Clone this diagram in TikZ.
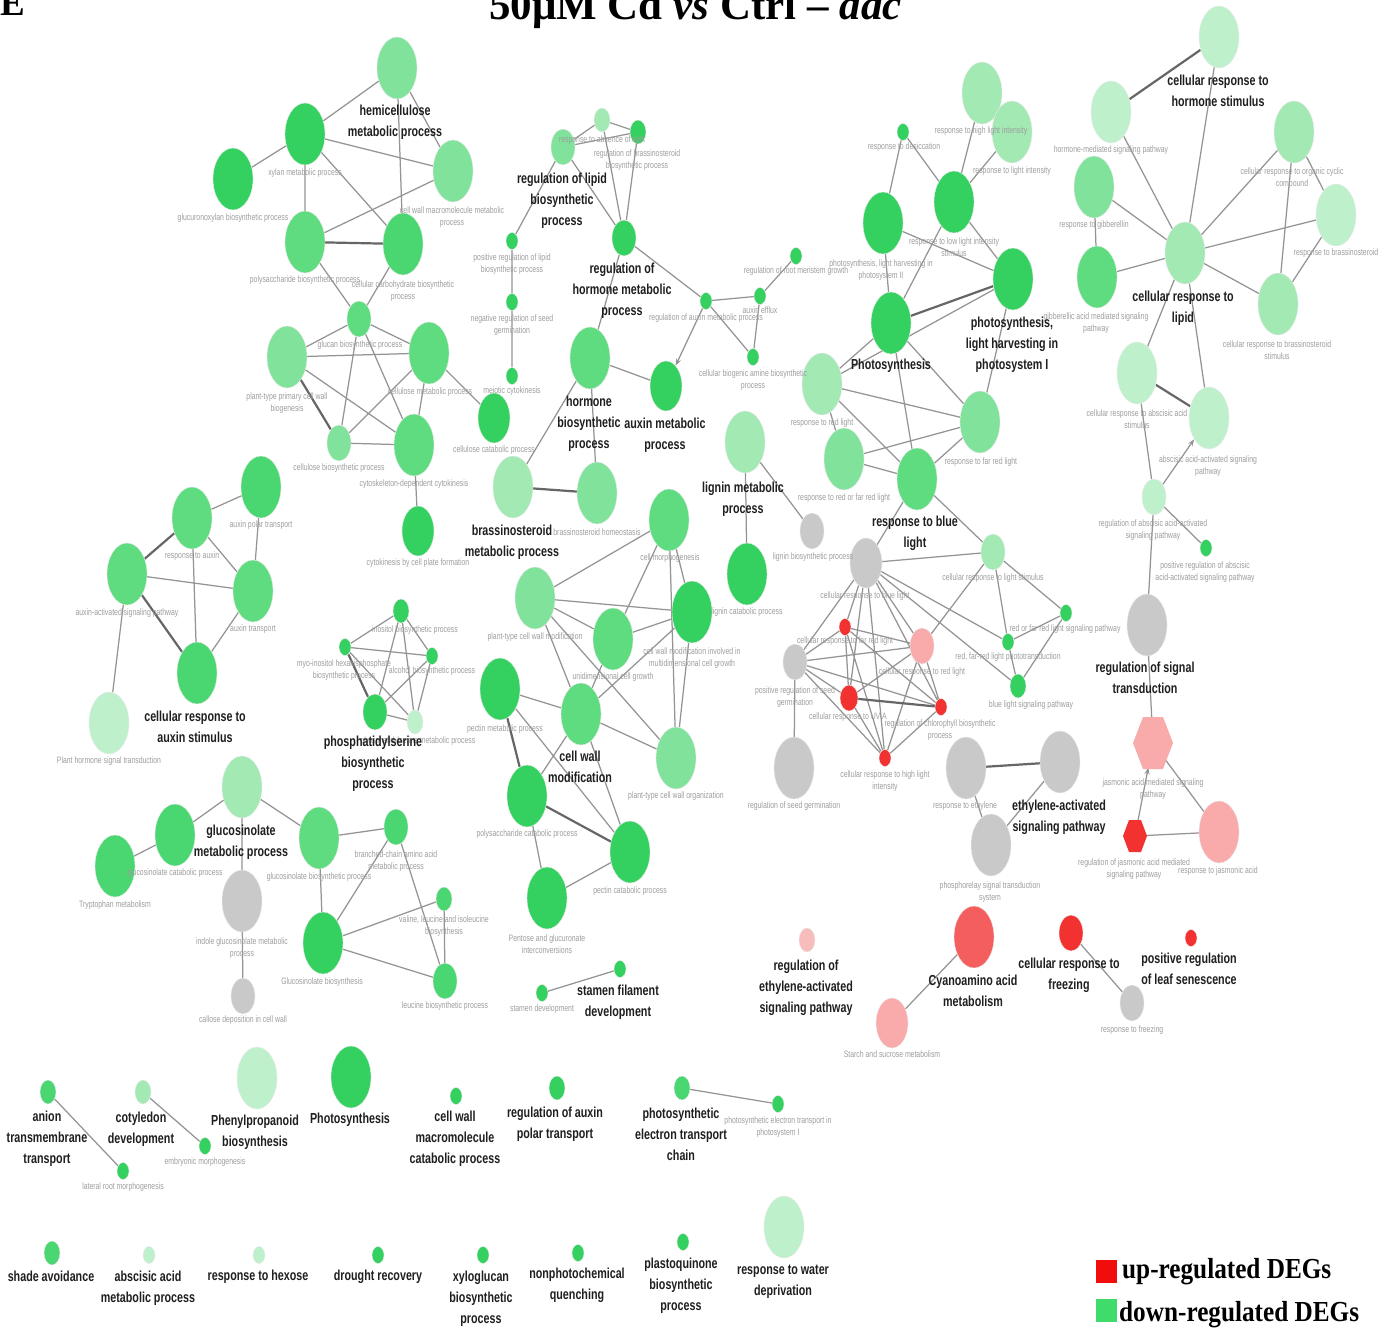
\documentclass[tikz,border=0pt]{standalone}
\usepackage{fontspec}
\setmainfont{Liberation Sans}
\newfontfamily\lblfont[FakeStretch=0.74]{Liberation Sans}
\newfontfamily\serifhead{Liberation Serif}
\newfontfamily\legfont[FakeStretch=0.87]{Liberation Serif}
\usetikzlibrary{shapes.geometric,arrows.meta,backgrounds}

\definecolor{cD}{HTML}{34D160}
\definecolor{cG}{HTML}{4AD772}
\definecolor{cM}{HTML}{5FDC80}
\definecolor{cL}{HTML}{80E29B}
\definecolor{cP}{HTML}{A2E9B4}
\definecolor{cV}{HTML}{BEF0CB}
\definecolor{cGr}{HTML}{C9C9C9}
\definecolor{cR}{HTML}{F23131}
\definecolor{cR2}{HTML}{F45E5E}
\definecolor{cK}{HTML}{F9AAAA}
\definecolor{cK2}{HTML}{F8BCBC}
\definecolor{legred}{HTML}{F20D0D}
\definecolor{leggreen}{HTML}{3FDB6B}

\begin{document}
\begin{tikzpicture}[x=1pt,y=-1pt,
  nd/.style={ellipse,inner sep=0pt,draw=black!8,line width=0.4pt},
  sL/.style={minimum width=40pt,minimum height=62pt},
  sM/.style={minimum width=32pt,minimum height=50pt},
  sS/.style={minimum width=24pt,minimum height=36pt},
  sX/.style={minimum width=16pt,minimum height=24pt},
  sT/.style={minimum width=12pt,minimum height=17pt},
  sm/.style={font=\lblfont\fontsize{9.3}{12.5}\selectfont,text=black!38,align=center,
    inner sep=0pt,anchor=north,yshift=6.3pt,execute at begin node=\strut},
  smm/.style={sm,yshift=-3.5pt},
  bd/.style={font=\lblfont\bfseries\fontsize{14.5}{21}\selectfont,text=black!88,align=center,
    inner sep=0pt,anchor=north,yshift=10.9pt,execute at begin node=\strut},
  bdm/.style={bd,yshift=-6pt},
  ed/.style={draw=black!42,line width=1.25pt},
  edk/.style={draw=black!60,line width=2.2pt},
  arr/.style={ed,-{Stealth[length=7pt,width=5pt]}}
]
\useasboundingbox (0,0) rectangle (1394,1331);
\clip (0,0) rectangle (1394,1331);

% ---------- panel letter and title ----------
\node[anchor=base west,inner sep=0pt,font=\serifhead\bfseries\fontsize{37}{37}\selectfont] (panel) at (0,15) {E};
\node[anchor=base west,inner sep=0pt,font=\serifhead\bfseries\fontsize{43}{43}\selectfont] (title) at (489,19) {50μM Cd \textit{vs} Ctrl – \textit{dac}};

% ---------- hemicellulose / cellulose ----------
\node[nd,sL,fill=cL] (n1) at (397,68) {};
\node[nd,sL,fill=cD] (n2) at (305,134) {};
\node[nd,sL,fill=cD] (n3) at (233,179) {};
\node[nd,sL,fill=cM] (n4) at (305,242) {};
\node[nd,sL,fill=cL] (n5) at (453,171) {};
\node[nd,sL,fill=cG] (n6) at (403,244) {};
\node[nd,sS,fill=cM] (n7) at (359,319) {};
\node[nd,sL,fill=cL] (n8) at (287,357) {};
\node[nd,sL,fill=cM] (n9) at (429,353) {};
\node[nd,sS,fill=cL] (n10) at (339,443) {};
\node[nd,sL,fill=cM] (n11) at (414,445) {};
\node[nd,sM,fill=cD] (n12) at (418,531) {};
\node[nd,sM,fill=cD] (n13) at (494,418) {};

% ---------- lipid / hormone metabolism ----------
\node[nd,sS,fill=cL] (n14) at (563,147) {};
\node[nd,sX,fill=cP] (n15) at (602,120) {};
\node[nd,sX,fill=cD] (n16) at (638,132) {};
\node[nd,sS,fill=cD] (n17) at (624,238) {};
\node[nd,sT,fill=cD] (n18) at (512,241) {};
\node[nd,sT,fill=cD] (n19) at (512,302) {};
\node[nd,sT,fill=cD] (n20) at (512,376) {};
\node[nd,sL,fill=cM] (n21) at (590,358) {};
\node[nd,sM,fill=cD] (n22) at (666,386) {};
\node[nd,sT,fill=cD] (n23) at (706,301) {};
\node[nd,sT,fill=cD] (n24) at (760,296) {};
\node[nd,sT,fill=cD] (n25) at (796,256) {};
\node[nd,sT,fill=cD] (n26) at (753,357) {};
\node[nd,sL,fill=cP] (n27) at (513,487) {};
\node[nd,sL,fill=cL] (n28) at (597,493) {};

% ---------- photosynthesis / light ----------
\node[nd,sL,fill=cP] (p1) at (982,93) {};
\node[nd,sL,fill=cP] (p2) at (1012,132) {};
\node[nd,sT,fill=cD] (p3) at (903,132) {};
\node[nd,sL,fill=cD] (p4) at (954,202) {};
\node[nd,sL,fill=cD] (p5) at (883,223) {};
\node[nd,sL,fill=cD] (p6) at (1013,279) {};
\node[nd,sL,fill=cD] (p7) at (891,323) {};
\node[nd,sL,fill=cP] (p8) at (822,384) {};
\node[nd,sL,fill=cL] (p9) at (980,422) {};
\node[nd,sL,fill=cL] (p10) at (844,459) {};
\node[nd,sL,fill=cM] (p11) at (917,479) {};
\node[nd,sL,fill=cP] (lm) at (745,442) {};
\node[nd,sL,fill=cD] (lc) at (747,574) {};
\node[nd,sS,fill=cGr] (g2) at (812,531) {};
\node[nd,sM,fill=cGr] (g1) at (866,563) {};
\node[nd,sS,fill=cP] (g3) at (993,552) {};
\node[nd,sS,fill=cGr] (g4) at (795,662) {};
\node[nd,sT,fill=cR] (r1) at (845,627) {};
\node[nd,sS,fill=cK] (r2) at (922,646) {};
\node[nd,fill=cR,minimum width=18pt,minimum height=26pt] (r3) at (849,698) {};
\node[nd,sT,fill=cR] (r4) at (941,707) {};
\node[nd,sT,fill=cR] (r5) at (885,758) {};
\node[nd,sT,fill=cD] (gr1) at (1066,613) {};
\node[nd,sT,fill=cD] (gr2) at (1008,642) {};
\node[nd,sX,fill=cD] (gr3) at (1018,686) {};
\node[nd,sL,fill=cGr] (g5) at (794,768) {};
\node[nd,sL,fill=cGr] (g6) at (966,768) {};
\node[nd,sL,fill=cGr] (g7) at (1060,762) {};
\node[nd,sL,fill=cGr] (g8) at (991,845) {};

% ---------- hormone response ----------
\node[nd,sL,fill=cV] (h1) at (1219,37) {};
\node[nd,sL,fill=cV] (h2) at (1111,112) {};
\node[nd,sL,fill=cL] (h3) at (1094,187) {};
\node[nd,sL,fill=cM] (h4) at (1097,277) {};
\node[nd,sL,fill=cP] (h5) at (1185,253) {};
\node[nd,sL,fill=cP] (h6) at (1294,132) {};
\node[nd,sL,fill=cV] (h7) at (1336,215) {};
\node[nd,sL,fill=cP] (h8) at (1278,304) {};
\node[nd,sL,fill=cV] (h9) at (1137,373) {};
\node[nd,sL,fill=cV] (h10) at (1209,418) {};
\node[nd,sS,fill=cV] (h11) at (1154,497) {};
\node[nd,sT,fill=cD] (h12) at (1206,548) {};
\node[nd,sL,fill=cGr] (h13) at (1147,625) {};
\fill[cK] (1133,743) -- (1143,717) -- (1163,717) -- (1173,743) -- (1163,769) -- (1143,769) -- cycle;
\node[ellipse,inner sep=0pt,minimum width=36pt,minimum height=50pt] (hx1) at (1153,743) {};
\fill[cR] (1123,836) -- (1129,820) -- (1141,820) -- (1147,836) -- (1141,852) -- (1129,852) -- cycle;
\node[ellipse,inner sep=0pt,minimum width=22pt,minimum height=30pt] (hx2) at (1135,836) {};
\node[nd,sL,fill=cK] (h14) at (1219,832) {};

% ---------- auxin ----------
\node[nd,sL,fill=cG] (a1) at (261,487) {};
\node[nd,sL,fill=cM] (a2) at (192,518) {};
\node[nd,sL,fill=cM] (a3) at (127,574) {};
\node[nd,sL,fill=cM] (a4) at (253,591) {};
\node[nd,sL,fill=cG] (a5) at (197,673) {};
\node[nd,sL,fill=cV] (a6) at (109,723) {};

% ---------- phosphatidylserine ----------
\node[nd,sX,fill=cD] (s1) at (401,611) {};
\node[nd,sT,fill=cD] (s2) at (345,647) {};
\node[nd,sT,fill=cD] (s3) at (432,656) {};
\node[nd,sS,fill=cD] (s4) at (375,712) {};
\node[nd,sX,fill=cV] (s5) at (415,722) {};

% ---------- cell wall ----------
\node[nd,sL,fill=cM] (c1) at (669,520) {};
\node[nd,sL,fill=cL] (c2) at (535,598) {};
\node[nd,sL,fill=cD] (c3) at (692,612) {};
\node[nd,sL,fill=cM] (c4) at (613,639) {};
\node[nd,sL,fill=cD] (c5) at (500,689) {};
\node[nd,sL,fill=cM] (c6) at (581,714) {};
\node[nd,sL,fill=cL] (c7) at (676,758) {};
\node[nd,sL,fill=cD] (c8) at (527,796) {};
\node[nd,sL,fill=cD] (c9) at (630,852) {};
\node[nd,sL,fill=cD] (c10) at (547,898) {};

% ---------- glucosinolate ----------
\node[nd,sL,fill=cP] (gl1) at (242,787) {};
\node[nd,sL,fill=cG] (gl2) at (175,835) {};
\node[nd,sL,fill=cG] (gl3) at (115,866) {};
\node[nd,sL,fill=cM] (gl4) at (319,838) {};
\node[nd,sL,fill=cGr] (gl5) at (242,901) {};
\node[nd,sS,fill=cGr] (gl6) at (243,996) {};
\node[nd,sL,fill=cD] (gl7) at (323,943) {};
\node[nd,sS,fill=cG] (gl8) at (396,827) {};
\node[nd,sX,fill=cG] (gl9) at (444,899) {};
\node[nd,sS,fill=cG] (gl10) at (445,981) {};

% ---------- small groups and singletons ----------
\node[nd,sT,fill=cD] (st1) at (620,969) {};
\node[nd,sT,fill=cD] (st2) at (542,993) {};
\node[nd,sX,fill=cG] (an) at (48,1092) {};
\node[nd,sT,fill=cD] (lr) at (123,1171) {};
\node[nd,sX,fill=cP] (co) at (143,1092) {};
\node[nd,sT,fill=cD] (em) at (205,1146) {};
\node[nd,sL,fill=cV] (ph) at (257,1078) {};
\node[nd,sL,fill=cD] (ps) at (351,1077) {};
\node[nd,sT,fill=cD] (cw) at (456,1096) {};
\node[nd,sX,fill=cD] (ra) at (557,1088) {};
\node[nd,sX,fill=cG] (et) at (682,1088) {};
\node[nd,sT,fill=cD] (et2) at (778,1104) {};
\node[nd,sX,fill=cK2] (re) at (807,940) {};
\node[nd,sL,fill=cR2] (cy) at (974,937) {};
\node[nd,sM,fill=cK] (sc) at (892,1023) {};
\node[nd,sS,fill=cR] (fr) at (1071,933) {};
\node[nd,sS,fill=cGr] (rf) at (1132,1003) {};
\node[nd,sT,fill=cR] (ls) at (1191,938) {};
\node[nd,sL,fill=cV] (wd) at (784,1227) {};
\node[nd,sX,fill=cG] (sh) at (52,1253) {};
\node[nd,sT,fill=cV] (ab) at (149,1255) {};
\node[nd,sT,fill=cV] (hx) at (259,1255) {};
\node[nd,sT,fill=cD] (dr) at (378,1255) {};
\node[nd,sT,fill=cD] (xy) at (483,1255) {};
\node[nd,sT,fill=cD] (np) at (578,1253) {};
\node[nd,sT,fill=cD] (pq) at (683,1242) {};

% ---------- connectors ----------
\begin{pgfonlayer}{background}
\fill[white] (0,0) rectangle (1394,1331);
\draw[ed] (n1)--(n2) (n1)--(n5) (n1)--(n6) (n2)--(n3) (n2)--(n4) (n2)--(n5) (n2)--(n6)
  (n4)--(n5) (n6)--(n7) (n4)--(n7);
\draw[edk] (n4)--(n6);
\draw[ed] (n7)--(n8) (n7)--(n9) (n7)--(n10) (n7)--(n11) (n8)--(n9) (n8)--(n11)
  (n9)--(n10) (n9)--(n11) (n10)--(n11) (n11)--(n12) (n9)--(n13);
\draw[edk] (n8)--(n10);
\draw[ed] (n14)--(n15) (n15)--(n16) (n14)--(n16) (n14)--(n18) (n14)--(n17) (n15)--(n17)
  (n16)--(n17) (n18)--(n19) (n19)--(n20) (n17)--(n21) (n17)--(n23) (n21)--(n22)
  (n23)--(n24) (n24)--(n25) (n23)--(n26) (n24)--(n26) (n21)--(n27) (n21)--(n28);
\draw[arr] (n23)--(n22);
\draw[edk] (n27)--(n28);
\draw[ed] (p1)--(p4) (p2)--(p4) (p3)--(p4) (p3)--(p5) (p4)--(p6) (p5)--(p6) (p4)--(p7)
  (p5)--(p7) (p6)--(p8) (p6)--(p9) (p7)--(p8) (p7)--(p9) (p7)--(p11) (p8)--(p9)
  (p8)--(p10) (p8)--(p11) (p9)--(p10) (p9)--(p11) (p10)--(p11) (p11)--(g1) (p11)--(g3);
\draw[edk] (p6)--(p7);
\draw[ed] (lm)--(lc) (lm)--(g2);
\draw[ed] (g1)--(g3) (g1)--(g4) (g1)--(r1) (g1)--(r3) (g1)--(r5) (g1)--(r2) (g1)--(r4)
  (g1)--(gr2) (g1)--(gr3) (g3)--(r2) (g3)--(gr1) (g3)--(gr2) (gr1)--(gr2) (gr1)--(gr3)
  (gr2)--(gr3) (g4)--(g5) (g4)--(r1) (g4)--(r2) (g4)--(r3) (g4)--(r4) (g4)--(r5)
  (r1)--(r2) (r1)--(r3) (r1)--(r4) (r1)--(r5) (r2)--(r3) (r2)--(r4) (r2)--(r5)
  (r3)--(r5) (r4)--(r5) (g6)--(g8) (g7)--(g8);
\draw[edk] (r3)--(r4) (g6)--(g7);
\draw[ed] (h1)--(h5) (h2)--(h5) (h3)--(h5) (h3)--(h4) (h4)--(h5) (h6)--(h5) (h6)--(h8)
  (h6)--(h7) (h7)--(h5) (h7)--(h8) (h8)--(h5) (h5)--(h9) (h5)--(h10) (h9)--(h11)
  (h11)--(h12) (h11)--(h13) (h13)--(hx1) (hx1)--(h14) (hx2)--(h14);
\draw[edk] (h1)--(h2) (h9)--(h10);
\draw[arr] (h11)--(h10);
\draw[arr] (hx2)--(hx1);
\draw[ed] (a1)--(a2) (a1)--(a4) (a2)--(a4) (a2)--(a5) (a3)--(a4) (a4)--(a5) (a3)--(a6);
\draw[edk] (a2)--(a3) (a3)--(a5);
\draw[ed] (s1)--(s2) (s1)--(s3) (s1)--(s4) (s1)--(s5) (s2)--(s3) (s2)--(s5) (s3)--(s4)
  (s3)--(s5) (s4)--(s5);
\draw[edk] (s2)--(s4);
\draw[ed] (c1)--(c2) (c1)--(c3) (c1)--(c4) (c1)--(c7) (c2)--(c3) (c2)--(c4) (c2)--(c6)
  (c2)--(c7) (c3)--(c4) (c3)--(c6) (c3)--(c7) (c4)--(c6) (c5)--(c6) (c5)--(c9)
  (c6)--(c7) (c6)--(c8) (c6)--(c9) (c8)--(c10) (c9)--(c10);
\draw[edk] (c5)--(c8) (c8)--(c9);
\draw[ed] (gl1)--(gl2) (gl1)--(gl4) (gl1)--(gl5) (gl2)--(gl3) (gl4)--(gl7) (gl5)--(gl6)
  (gl4)--(gl8) (gl7)--(gl8) (gl7)--(gl9) (gl7)--(gl10) (gl8)--(gl10) (gl9)--(gl10);
\draw[ed] (st1)--(st2) (an)--(lr) (co)--(em) (et)--(et2) (cy)--(sc) (fr)--(rf);
\end{pgfonlayer}

% ---------- term labels (small) ----------
\node[sm] (t1) at (305,173) {xylan metabolic process};
\node[sm] (t2) at (233,218) {glucuronoxylan biosynthetic process};
\node[sm] (t3) at (305,280) {polysaccharide biosynthetic process};
\node[smm] (t4) at (452,209) {cell wall macromolecule metabolic\\process};
\node[smm] (t5) at (403,283) {cellular carbohydrate biosynthetic\\process};
\node[sm] (t6) at (360,345) {glucan biosynthetic process};
\node[smm] (t7) at (287,395) {plant-type primary cell wall\\biogenesis};
\node[sm] (t8) at (430,392) {cellulose metabolic process};
\node[sm] (t9) at (339,468) {cellulose biosynthetic process};
\node[sm] (t10) at (414,484) {cytoskeleton-dependent cytokinesis};
\node[sm] (t11) at (418,563) {cytokinesis by cell plate formation};
\node[sm] (t12) at (494,450) {cellulose catabolic process};
\node[sm] (t13) at (602,140) {response to absence of light};
\node[smm] (t14) at (637,152) {regulation of brassinosteroid\\biosynthetic process};
\node[smm] (t15) at (512,256) {positive regulation of lipid\\biosynthetic process};
\node[smm] (t16) at (512,317) {negative regulation of seed\\germination};
\node[sm] (t17) at (512,391) {meiotic cytokinesis};
\node[sm] (t18) at (706,318) {regulation of auxin metabolic process};
\node[sm] (t19) at (760,311) {auxin efflux};
\node[sm] (t20) at (796,271) {regulation of root meristem growth};
\node[smm] (t21) at (753,372) {cellular biogenic amine biosynthetic\\process};
\node[sm] (t22) at (597,533) {brassinosteroid homeostasis};
\node[sm] (t23) at (981,131) {response to high light intensity};
\node[sm] (t24) at (1012,171) {response to light intensity};
\node[sm] (t25) at (904,147) {response to desiccation};
\node[smm] (t26) at (954,240) {response to low light intensity\\stimulus};
\node[smm] (t27) at (881,262) {photosynthesis, light harvesting in\\photosystem II};
\node[sm] (t28) at (822,423) {response to red light};
\node[sm] (t29) at (981,462) {response to far red light};
\node[sm] (t30) at (844,498) {response to red or far red light};
\node[sm] (t31) at (865,596) {cellular response to blue light};
\node[sm] (t32) at (813,557) {lignin biosynthetic process};
\node[sm] (t33) at (747,612) {lignin catabolic process};
\node[sm] (t34) at (993,578) {cellular response to light stimulus};
\node[smm] (t35) at (795,689) {positive regulation of seed\\germination};
\node[sm] (t36) at (845,641) {cellular response to far red light};
\node[sm] (t37) at (922,672) {cellular response to red light};
\node[sm] (t38) at (848,717) {cellular response to UV-A};
\node[smm] (t39) at (940,722) {regulation of chlorophyll biosynthetic\\process};
\node[smm] (t40) at (885,773) {cellular response to high light\\intensity};
\node[sm] (t41) at (1065,629) {red or far red light signaling pathway};
\node[sm] (t42) at (1008,657) {red, far-red light phototransduction};
\node[sm] (t43) at (1031,705) {blue light signaling pathway};
\node[sm] (t44) at (794,806) {regulation of seed germination};
\node[sm] (t45) at (965,806) {response to ethylene};
\node[smm] (t46) at (990,884) {phosphorelay signal transduction\\system};
\node[sm] (t47) at (1111,150) {hormone-mediated signaling pathway};
\node[sm] (t48) at (1094,225) {response to gibberellin};
\node[smm] (t49) at (1096,315) {gibberellic acid mediated signaling\\pathway};
\node[smm] (t50) at (1292,170) {cellular response to organic cyclic\\compound};
\node[sm] (t51) at (1336,253) {response to brassinosteroid};
\node[smm] (t52) at (1277,343) {cellular response to brassinosteroid\\stimulus};
\node[smm] (t53) at (1137,412) {cellular response to abscisic acid\\stimulus};
\node[smm] (t54) at (1208,458) {abscisic acid-activated signaling\\pathway};
\node[smm] (t55) at (1153,522) {regulation of abscisic acid-activated\\signaling pathway};
\node[smm] (t56) at (1205,564) {positive regulation of abscisic\\acid-activated signaling pathway};
\node[smm] (t57) at (1153,781) {jasmonic acid mediated signaling\\pathway};
\node[smm] (t58) at (1134,861) {regulation of jasmonic acid mediated\\signaling pathway};
\node[sm] (t59) at (1218,871) {response to jasmonic acid};
\node[sm] (t60) at (261,525) {auxin polar transport};
\node[sm] (t61) at (192,556) {response to auxin};
\node[sm] (t62) at (127,613) {auxin-activated signaling pathway};
\node[sm] (t63) at (253,629) {auxin transport};
\node[sm] (t64) at (109,761) {Plant hormone signal transduction};
\node[sm] (t65) at (415,630) {inositol biosynthetic process};
\node[smm] (t66) at (344,662) {myo-inositol hexakisphosphate\\biosynthetic process};
\node[sm] (t67) at (432,671) {alcohol biosynthetic process};
\node[sm] (t68) at (418,741) {phosphatidylserine metabolic process};
\node[sm] (t69) at (670,558) {cell morphogenesis};
\node[sm] (t70) at (535,637) {plant-type cell wall modification};
\node[smm] (t71) at (692,650) {cell wall modification involved in\\multidimensional cell growth};
\node[sm] (t72) at (613,677) {unidimensional cell growth};
\node[sm] (t73) at (505,729) {pectin metabolic process};
\node[sm] (t74) at (676,796) {plant-type cell wall organization};
\node[sm] (t75) at (527,834) {polysaccharide catabolic process};
\node[sm] (t76) at (630,891) {pectin catabolic process};
\node[smm] (t77) at (547,937) {Pentose and glucuronate\\interconversions};
\node[sm] (t78) at (175,873) {glucosinolate catabolic process};
\node[sm] (t79) at (115,905) {Tryptophan metabolism};
\node[sm] (t80) at (319,877) {glucosinolate biosynthetic process};
\node[smm] (t81) at (242,940) {indole glucosinolate metabolic\\process};
\node[sm] (t82) at (243,1020) {callose deposition in cell wall};
\node[sm] (t83) at (322,982) {Glucosinolate biosynthesis};
\node[smm] (t84) at (396,853) {branched-chain amino acid\\metabolic process};
\node[smm] (t85) at (444,918) {valine, leucine and isoleucine\\biosynthesis};
\node[sm] (t86) at (445,1006) {leucine biosynthetic process};
\node[sm] (t87) at (542,1009) {stamen development};
\node[sm] (t88) at (123,1187) {lateral root morphogenesis};
\node[sm] (t89) at (205,1162) {embryonic morphogenesis};
\node[smm] (t90) at (778,1119) {photosynthetic electron transport in\\photosystem I};
\node[sm] (t91) at (892,1055) {Starch and sucrose metabolism};
\node[sm] (t92) at (1132,1030) {response to freezing};

% ---------- cluster labels (bold) ----------
\node[bdm] (b1) at (395,110) {hemicellulose\\metabolic process};
\node[bdm] (b2) at (562,178) {regulation of lipid\\biosynthetic\\process};
\node[bdm] (b3) at (622,268) {regulation of\\hormone metabolic\\process};
\node[bdm] (b4) at (589,401) {hormone\\biosynthetic\\process};
\node[bdm] (b5) at (665,423) {auxin metabolic\\process};
\node[bdm] (b6) at (512,530) {brassinosteroid\\metabolic process};
\node[bdm] (b7) at (1012,322) {photosynthesis,\\light harvesting in\\photosystem I};
\node[bd] (b8) at (891,365) {Photosynthesis};
\node[bdm] (b9) at (743,487) {lignin metabolic\\process};
\node[bdm] (b10) at (915,521) {response to blue\\light};
\node[bdm] (b11) at (1059,805) {ethylene-activated\\signaling pathway};
\node[bdm] (b12) at (1218,80) {cellular response to\\hormone stimulus};
\node[bdm] (b13) at (1183,296) {cellular response to\\lipid};
\node[bdm] (b14) at (1145,667) {regulation of signal\\transduction};
\node[bdm] (b15) at (195,716) {cellular response to\\auxin stimulus};
\node[bdm] (b16) at (373,741) {phosphatidylserine\\biosynthetic\\process};
\node[bdm] (b17) at (580,756) {cell wall\\modification};
\node[bdm] (b18) at (241,830) {glucosinolate\\metabolic process};
\node[bdm] (b19) at (618,990) {stamen filament\\development};
\node[bdm] (b20) at (47,1116) {anion\\transmembrane\\transport};
\node[bdm] (b21) at (141,1117) {cotyledon\\development};
\node[bdm] (b22) at (255,1120) {Phenylpropanoid\\biosynthesis};
\node[bd] (b23) at (350,1119) {Photosynthesis};
\node[bdm] (b24) at (455,1116) {cell wall\\macromolecule\\catabolic process};
\node[bdm] (b25) at (555,1112) {regulation of auxin\\polar transport};
\node[bdm] (b26) at (681,1113) {photosynthetic\\electron transport\\chain};
\node[bdm] (b27) at (806,965) {regulation of\\ethylene-activated\\signaling pathway};
\node[bdm] (b28) at (973,980) {Cyanoamino acid\\metabolism};
\node[bdm] (b29) at (1069,963) {cellular response to\\freezing};
\node[bdm] (b30) at (1189,958) {positive regulation\\of leaf senescence};
\node[bdm] (b31) at (783,1270) {response to water\\deprivation};
\node[bd] (b32) at (51,1277) {shade avoidance};
\node[bdm] (b33) at (148,1276) {abscisic acid\\metabolic process};
\node[bd] (b34) at (258,1276) {response to hexose};
\node[bd] (b35) at (378,1276) {drought recovery};
\node[bdm] (b36) at (481,1276) {xyloglucan\\biosynthetic\\process};
\node[bdm] (b37) at (577,1273) {nonphotochemical\\quenching};
\node[bdm] (b38) at (681,1263) {plastoquinone\\biosynthetic\\process};

% ---------- legend ----------
\node[fill=legred,minimum width=21pt,minimum height=23pt,inner sep=0pt,anchor=north west] (kup) at (1096,1260) {};
\node[anchor=base west,inner sep=0pt,font=\legfont\bfseries\fontsize{29}{29}\selectfont] (kupt) at (1122,1278) {up-regulated DEGs};
\node[fill=leggreen,minimum width=21pt,minimum height=23pt,inner sep=0pt,anchor=north west] (kdn) at (1096,1299) {};
\node[anchor=base west,inner sep=0pt,font=\legfont\bfseries\fontsize{29}{29}\selectfont] (kdnt) at (1119,1321) {down-regulated DEGs};
\end{tikzpicture}
\end{document}
